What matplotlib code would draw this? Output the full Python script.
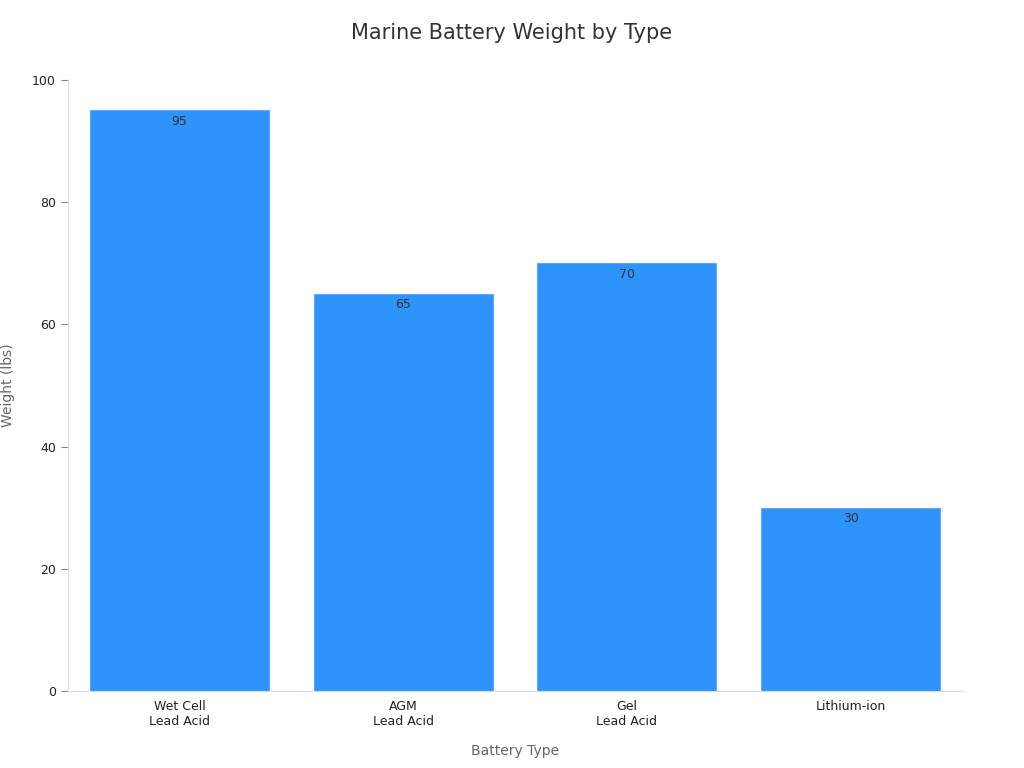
import matplotlib
matplotlib.use("Agg")
import matplotlib.pyplot as plt

categories = ["Wet Cell\nLead Acid", "AGM\nLead Acid", "Gel\nLead Acid", "Lithium-ion"]
weights = [95, 65, 70, 30]

fig = plt.figure(figsize=(10.24, 7.68), dpi=100)
ax = fig.add_axes([0.066, 0.100, 0.874, 0.796])
x = range(len(categories))
ax.bar(x, weights, width=0.8, color="#2e93fa", edgecolor="#5aa9f8", linewidth=0.8)
for i, v in zip(x, weights):
    ax.text(i, v - 0.7, str(v), ha="center", va="top", fontsize=9, color="#333333")
ax.set_xlim(-0.5, 3.5)
ax.set_ylim(0, 100)
ax.set_xticks(list(x))
ax.set_xticklabels(categories, fontsize=9, color="#222222")
ax.set_yticks([0, 20, 40, 60, 80, 100])
ax.tick_params(axis="y", labelsize=9, colors="#222222", length=5, color="#888888")
ax.tick_params(axis="x", length=0, pad=6)
for s in ["top", "right"]:
    ax.spines[s].set_visible(False)
ax.spines["left"].set_color("#dddddd")
ax.spines["bottom"].set_color("#dddddd")
ax.set_xlabel("Battery Type", fontsize=10, color="#666666", labelpad=12)
ax.set_ylabel("Weight (lbs)", fontsize=10, color="#666666", labelpad=12)
fig.suptitle("Marine Battery Weight by Type", fontsize=15, color="#333333", y=0.97)
fig.savefig("out.png", dpi=100)
